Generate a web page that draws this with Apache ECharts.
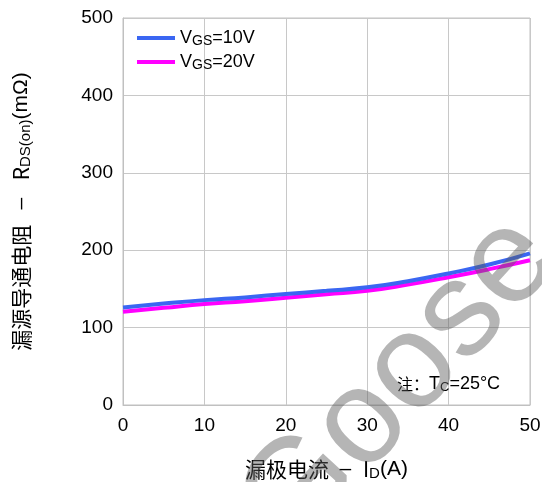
<!DOCTYPE html>
<html>
<head>
<meta charset="utf-8">
<script src="https://cdn.jsdelivr.net/npm/echarts@6/dist/echarts.min.js"></script>
<style>
  html, body { margin: 0; padding: 0; background: #fff; }
  #chart { width: 542px; height: 482px; }
</style>
</head>
<body>
<div id="chart"></div>
<script>
// Drain current I_D (A)
var currents = [0, 5, 10, 15, 20, 25, 30, 35, 40, 45, 50];
// On-resistance R_DS(on) (mΩ) at V_GS = 10 V
var rds10V = [126, 131, 135.5, 139, 143.5, 147.5, 152, 160, 170, 181.5, 196];
// On-resistance R_DS(on) (mΩ) at V_GS = 20 V
var rds20V = [120.5, 125.5, 130.5, 134, 138.5, 143, 147.5, 155.5, 165, 175.5, 187];
var seriesNames = ['VGS=10V', 'VGS=20V'];
var xTicks = [0, 10, 20, 30, 40, 50];
var yTicks = [0, 100, 200, 300, 400, 500];

var font = '"Liberation Sans", Arial, "Noto Sans CJK SC", sans-serif';
var cjk = '"Noto Sans CJK SC", "Liberation Sans", sans-serif';

function pairs(xs, ys) {
  return xs.map(function (x, i) { return [x, ys[i]]; });
}

var chart = echarts.init(document.getElementById('chart'), null, { renderer: 'canvas' });

chart.setOption({
  animation: false,
  backgroundColor: '#ffffff',
  grid: {
    left: 123, right: 12, top: 18, bottom: 77,
    outerBoundsMode: 'none', containLabel: false,
    show: true, borderColor: '#c0c0c0', borderWidth: 1
  },
  legend: {
    left: 137, top: 28, orient: 'vertical', itemGap: 4, padding: 0,
    itemWidth: 38, itemHeight: 4, icon: 'rect',
    data: seriesNames,
    formatter: function (name) {
      return 'V{s|GS}' + name.slice(3);
    },
    textStyle: {
      fontFamily: font, fontSize: 18, color: '#000', lineHeight: 20,
      rich: { s: { fontFamily: font, fontSize: 14, color: '#000', lineHeight: 20, verticalAlign: 'bottom', padding: [3, 0, 0, 0] } }
    }
  },
  xAxis: {
    type: 'value', min: xTicks[0], max: xTicks[xTicks.length - 1], interval: 10,
    axisLine: { show: true, lineStyle: { color: '#c0c0c0' } },
    axisTick: { show: false },
    splitLine: { show: true, lineStyle: { color: '#c8c8c8', width: 1 } },
    axisLabel: { color: '#000', fontFamily: font, fontSize: 19, margin: 11 },
    name: '漏极电流 {d| –  }I{sub|D}{d|(A)}',
    nameLocation: 'middle', nameGap: 52,
    nameTextStyle: {
      fontFamily: cjk, fontSize: 21, color: '#000',
      rich: {
        d: { fontFamily: font, fontSize: 21, color: '#000' },
        sub: { fontFamily: font, fontSize: 15, color: '#000', verticalAlign: 'bottom', padding: [9, 0, 0, 0] }
      }
    }
  },
  yAxis: {
    type: 'value', min: yTicks[0], max: yTicks[yTicks.length - 1], interval: 100,
    axisLine: { show: true, lineStyle: { color: '#c0c0c0' } },
    axisTick: { show: false },
    splitLine: { show: true, lineStyle: { color: '#c8c8c8', width: 1 } },
    axisLabel: { color: '#000', fontFamily: font, fontSize: 19, margin: 10 },
    name: '漏源导通电阻  {d| –   }R{sub|DS(on)}{d|(mΩ)}',
    nameLocation: 'middle', nameGap: 90, nameRotate: 90,
    nameTextStyle: {
      fontFamily: cjk, fontSize: 21, color: '#000',
      rich: {
        d: { fontFamily: font, fontSize: 21, color: '#000' },
        sub: { fontFamily: font, fontSize: 15, color: '#000', verticalAlign: 'bottom', padding: [9, 0, 0, 0] }
      }
    }
  },
  series: [
    {
      name: seriesNames[0], type: 'line', smooth: true, showSymbol: false,
      data: pairs(currents, rds10V),
      color: '#3a66f2',
      lineStyle: { color: '#3a66f2', width: 4 }, z: 3
    },
    {
      name: seriesNames[1], type: 'line', smooth: true, showSymbol: false,
      data: pairs(currents, rds20V),
      color: '#ff00ff',
      lineStyle: { color: '#ff00ff', width: 4 }, z: 2
    }
  ],
  graphic: [
    {
      type: 'text', left: 397, top: 375, z: 10,
      style: {
        text: '注：{t|T}{sub|C}{t|=25°C}',
        fontFamily: cjk, fontSize: 16, fill: '#000',
        rich: {
          t: { fontFamily: font, fontSize: 18, fill: '#000' },
          sub: { fontFamily: font, fontSize: 13, fill: '#000', verticalAlign: 'bottom', padding: [7, 0, 0, 0] }
        }
      }
    },
    {
      // diagonal watermark
      type: 'text', x: 400, y: 383, rotation: 0.83, z: 100, silent: true,
      style: {
        text: 'Goose', fontFamily: font, fontSize: 135,
        fill: 'rgba(90,90,90,0.45)', align: 'center', verticalAlign: 'middle'
      }
    }
  ]
});
</script>
</body>
</html>
